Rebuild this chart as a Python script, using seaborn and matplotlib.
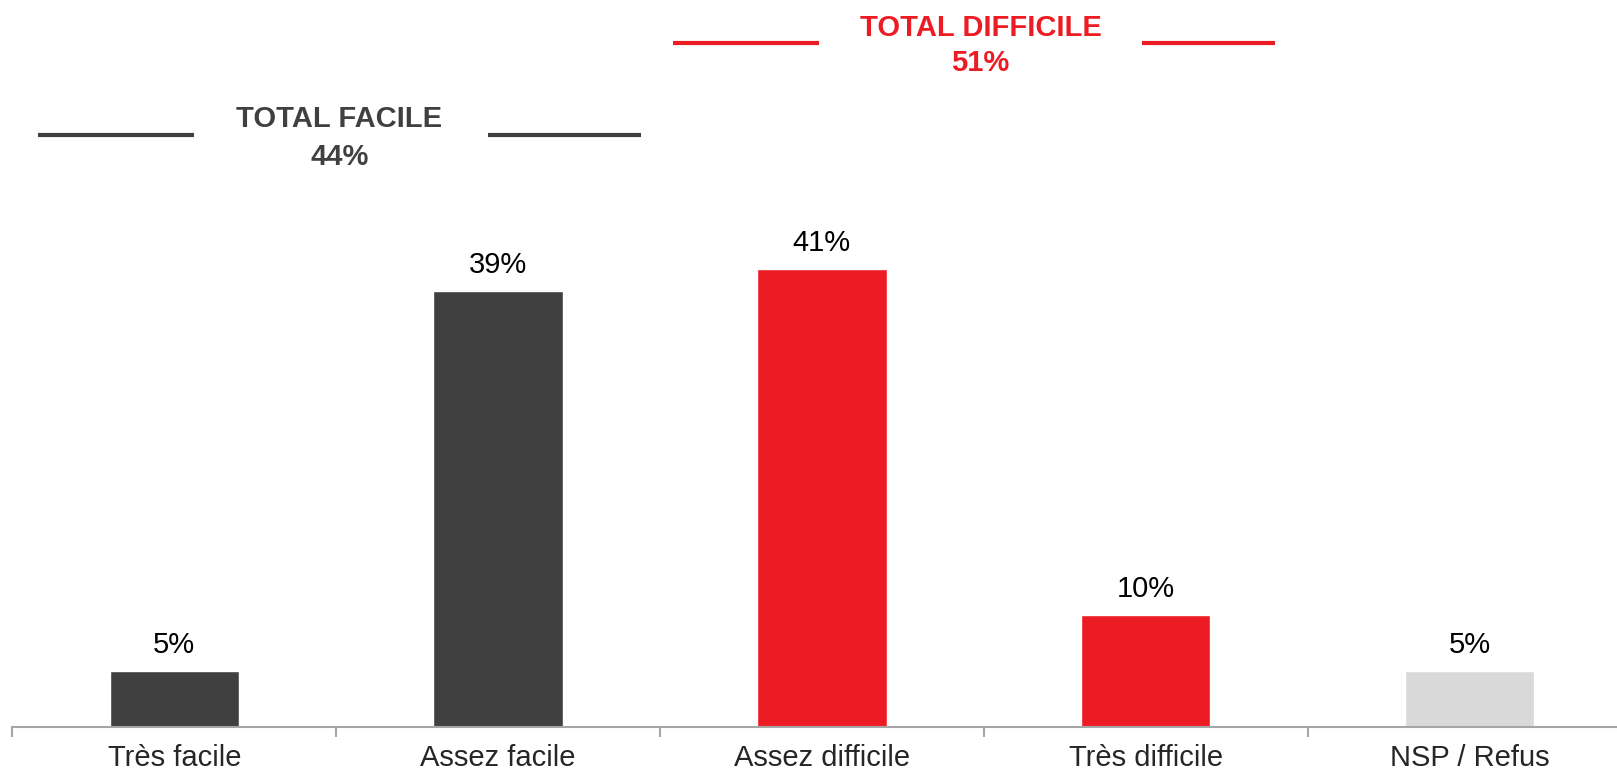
import matplotlib
matplotlib.use("Agg")
import matplotlib.pyplot as plt
import seaborn as sns
import pandas as pd

# data
categories = ["Très facile", "Assez facile", "Assez difficile", "Très difficile", "NSP / Refus"]
values = [5, 39, 41, 10, 5]
bar_colors = ["#404040", "#404040", "#ED1C24", "#ED1C24", "#D9D9D9"]
group_titles = ["TOTAL FACILE", "TOTAL DIFFICILE"]
group_totals = [44, 51]
group_colors = ["#404040", "#ED1C24"]

df = pd.DataFrame({"cat": categories, "val": values})

sns.set_style("white")
plt.rcParams["font.family"] = ["Liberation Sans", "DejaVu Sans"]

fig = plt.figure(figsize=(16.17, 7.72), dpi=100)
# axis baseline ~727 px from top, left edge at ~12 px, right edge runs past the figure
ax = fig.add_axes([12.4 / 1617, 45 / 772, 1619 / 1617, 727 / 772])

sns.barplot(data=df, x="cat", y="val", hue="cat", palette=bar_colors,
            width=0.4, legend=False, saturation=1, ax=ax)

ax.set_xlim(-0.5, 4.5)
ax.set_ylim(0, 727 / 11.17)

for c in ax.containers:
    ax.bar_label(c, labels=[f"{v:.0f}%" for v in c.datavalues],
                 padding=9, fontsize=21, color="black")

# axis styling
for s in ["top", "right", "left"]:
    ax.spines[s].set_visible(False)
ax.spines["bottom"].set_color("#A6A6A6")
ax.spines["bottom"].set_linewidth(1.5)
ax.set_yticks([])
ax.set_xlabel("")
ax.set_ylabel("")
ax.set_xticks(range(len(categories)))
ax.set_xticklabels(categories, fontsize=21)
ax.tick_params(axis="x", which="major", length=0, pad=12)
ax.set_xticks([-0.5, 0.5, 1.5, 2.5, 3.5, 4.5], minor=True)
ax.tick_params(axis="x", which="minor", bottom=True, length=7, width=1.5,
               color="#A6A6A6", direction="out")

# group headers
headers = [
    # center, title y, total y, line y, left line, right line
    (0.51, 54.4, 51.05, 53.0, (-0.42, 0.06), (0.97, 1.44)),
    (2.49, 62.6, 59.45, 61.2, (1.54, 1.99), (2.99, 3.40)),
]
for (cx, ty, vy, ly, l1, l2), title, tot, col in zip(headers, group_titles, group_totals, group_colors):
    ax.text(cx, ty, title, ha="center", va="center", fontsize=21,
            fontweight="bold", color=col)
    ax.text(cx, vy, f"{tot}%", ha="center", va="center", fontsize=21,
            fontweight="bold", color=col)
    ax.plot(l1, [ly, ly], color=col, lw=3, solid_capstyle="butt", clip_on=False)
    ax.plot(l2, [ly, ly], color=col, lw=3, solid_capstyle="butt", clip_on=False)

fig.savefig("out.png", dpi=100)
